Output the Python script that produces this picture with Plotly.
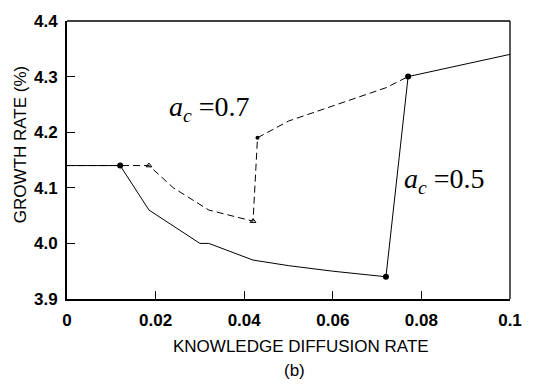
import plotly.graph_objects as go

# a_c = 0.5 (solid)
x_solid = [0, 0.012, 0.0185, 0.030, 0.032, 0.042, 0.050, 0.060, 0.072, 0.077, 0.1]
y_solid = [4.14, 4.14, 4.06, 4.00, 4.00, 3.97, 3.96, 3.95, 3.94, 4.30, 4.34]
x_solid_dots = [0.012, 0.072, 0.077]
y_solid_dots = [4.14, 3.94, 4.30]

# a_c = 0.7 (dashed)
x_dash = [0, 0.0185, 0.024, 0.032, 0.042, 0.043, 0.050, 0.072, 0.077]
y_dash = [4.14, 4.14, 4.10, 4.06, 4.04, 4.19, 4.22, 4.28, 4.30]
x_dash_tri = [0.0185, 0.042]
y_dash_tri = [4.14, 4.04]
x_dash_dot = [0.043]
y_dash_dot = [4.19]

x_ticks = [0, 0.02, 0.04, 0.06, 0.08, 0.1]
x_ticklabels = ["0", "0.02", "0.04", "0.06", "0.08", "0.1"]
y_ticks = [3.9, 4.0, 4.1, 4.2, 4.3, 4.4]
y_ticklabels = ["3.9", "4.0", "4.1", "4.2", "4.3", "4.4"]

fig = go.Figure()
fig.add_trace(go.Scatter(x=x_dash, y=y_dash, mode="lines",
                         line=dict(color="black", width=1, dash="7px,4px")))
fig.add_trace(go.Scatter(x=x_solid, y=y_solid, mode="lines",
                         line=dict(color="black", width=1)))
fig.add_trace(go.Scatter(x=x_solid_dots, y=y_solid_dots, mode="markers",
                         marker=dict(color="black", size=6, symbol="circle")))
fig.add_trace(go.Scatter(x=x_dash_tri, y=y_dash_tri, mode="markers",
                         marker=dict(color="black", size=5, symbol="triangle-up-open",
                                     line=dict(width=1, color="black"))))
fig.add_trace(go.Scatter(x=x_dash_dot, y=y_dash_dot, mode="markers",
                         marker=dict(color="black", size=4, symbol="circle")))

tickfont = dict(family="Arial, Liberation Sans", size=17, color="black", weight=700)
fig.update_xaxes(range=[0, 0.1], tickvals=x_ticks,
                 ticktext=["<b>%s</b>" % t for t in x_ticklabels],
                 ticks="inside", ticklen=8, tickwidth=1, tickcolor="black",
                 showline=True, linecolor="black", linewidth=2, ticklabelstandoff=5,
                 showgrid=False, zeroline=False, tickfont=tickfont)
fig.update_yaxes(range=[3.9, 4.4], tickvals=y_ticks,
                 ticktext=["<b>%s</b>" % t for t in y_ticklabels],
                 ticks="inside", ticklen=8, tickwidth=1, tickcolor="black",
                 showline=True, linecolor="black", linewidth=2, ticklabelstandoff=4,
                 showgrid=False, zeroline=False, tickfont=tickfont)

fig.add_shape(type="line", xref="paper", yref="paper", x0=0, x1=1, y0=1, y1=1,
              line=dict(color="black", width=1.3))
fig.add_shape(type="line", xref="paper", yref="paper", x0=1, x1=1, y0=0, y1=1,
              line=dict(color="black", width=1.3))

serif = dict(family="Liberation Serif", size=28, color="black")
sans = dict(family="Arial, Liberation Sans", size=17, color="black")
fig.add_annotation(xref="paper", yref="paper", x=0.225, y=0.686, xanchor="left", yanchor="middle",
                   text="<i>a</i><sub><i>c</i></sub> =0.7", showarrow=False, font=serif)
fig.add_annotation(xref="paper", yref="paper", x=0.757, y=0.428, xanchor="left", yanchor="middle",
                   text="<i>a</i><sub><i>c</i></sub> =0.5", showarrow=False, font=serif)
fig.add_annotation(xref="paper", yref="paper", x=0.528, y=-0.170, xanchor="center", yanchor="middle",
                   text="KNOWLEDGE DIFFUSION RATE", showarrow=False, font=sans)
fig.add_annotation(xref="paper", yref="paper", x=0.513, y=-0.256, xanchor="center", yanchor="middle",
                   text="(b)", showarrow=False, font=sans)
fig.add_annotation(xref="paper", yref="paper", x=-0.1035, y=0.554, xanchor="center", yanchor="middle",
                   text="GROWTH RATE (%)", textangle=-90, showarrow=False, font=sans)

fig.update_layout(width=534, height=386, margin=dict(l=67, r=13, t=14, b=87),
                  plot_bgcolor="white", paper_bgcolor="white", showlegend=False)
fig.write_html("out.html")
